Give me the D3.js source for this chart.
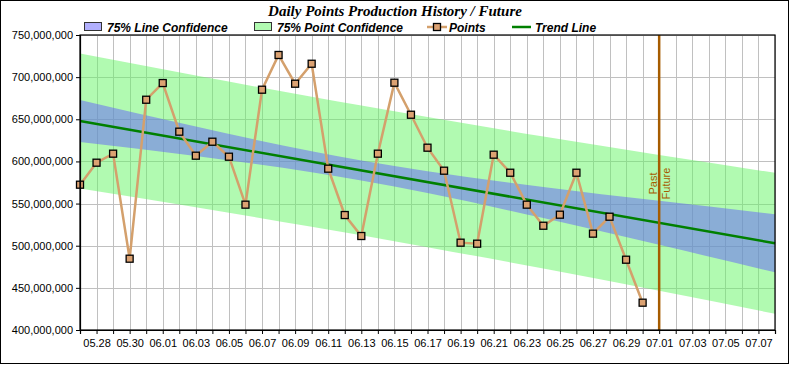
<!DOCTYPE html>
<html>
<head>
<meta charset="utf-8">
<script src="https://cdn.jsdelivr.net/npm/d3@7"></script>
<style>
  body { margin: 0; background: #fff; }
  svg { display: block; font-family: 'Liberation Sans', Arial, sans-serif; }
  .axis text { font-size: 11px; fill: #000; }
  .axis path, .axis line { stroke: #000; }
</style>
</head>
<body>
<div class="chart"></div>
<script>
'use strict';

// Past daily points (dates are MM.DD)
const pastDates = ['05.27', '05.28', '05.29', '05.30', '05.31', '06.01', '06.02', '06.03', '06.04',
  '06.05', '06.06', '06.07', '06.08', '06.09', '06.10', '06.11', '06.12', '06.13', '06.14', '06.15',
  '06.16', '06.17', '06.18', '06.19', '06.20', '06.21', '06.22', '06.23', '06.24', '06.25', '06.26',
  '06.27', '06.28', '06.29', '06.30'];
const points = [572400000, 598500000, 609200000, 484600000, 673200000, 693000000, 635300000,
  606800000, 623400000, 605600000, 548700000, 685100000, 726300000, 692200000, 715900000,
  591400000, 536400000, 511500000, 609200000, 693400000, 655400000, 616300000, 589000000,
  503600000, 502400000, 608000000, 586600000, 548700000, 523700000, 536800000, 586600000,
  514300000, 534400000, 483400000, 432400000];

// Trend line and confidence bands
const trendDates = ['05.27', '07.08'];
const trendValues = [648000000, 502900000];
const bandDates = ['05.27', '06.03', '06.10', '06.13', '06.17', '06.24', '07.01', '07.08'];
const lineUpper = [673000000, 641300000, 612000000, 601100000, 588300000, 569800000, 553200000, 537400000];
const lineLower = [623000000, 606300000, 587200000, 577500000, 562500000, 532800000, 501000000, 468400000];
const pointUpper = [728100000, 701900000, 676700000, 666300000, 652600000, 629600000, 607600000, 586500000];
const pointLower = [567900000, 545700000, 522500000, 512300000, 498200000, 473000000, 446600000, 419300000];

const splitDate = '07.01';
const xStart = '05.27';
const xEnd = '07.08';
const xTickLabels = ['05.28', '05.30', '06.01', '06.03', '06.05', '06.07', '06.09', '06.11', '06.13',
  '06.15', '06.17', '06.19', '06.21', '06.23', '06.25', '06.27', '06.29', '07.01', '07.03', '07.05', '07.07'];
const yTicks = [400000000, 450000000, 500000000, 550000000, 600000000, 650000000, 700000000, 750000000];

// Initialize
const w = 790;
const h = 365;
const plotLeft = 80;
const plotRight = 775;
const plotTop = 35;
const plotBottom = 330;

const parse = s => d3.utcParse('%Y.%m.%d')('2023.' + s);
const fmtDay = d3.utcFormat('%m.%d');

const svg = d3.select('.chart')
              .append('svg')
              .attr('width', w)
              .attr('height', h);

// Outer frame
svg.append('rect')
  .attr('x', 0.5).attr('y', 0.5)
  .attr('width', w - 2).attr('height', h - 2)
  .attr('fill', '#fff')
  .attr('stroke', '#000');

// Scales
const xScale = d3.scaleUtc()
                .domain([parse(xStart), parse(xEnd)])
                .range([plotLeft, plotRight]);

const yScale = d3.scaleLinear()
                .domain([d3.min(yTicks), d3.max(yTicks)])
                .range([plotBottom, plotTop]);

const allDays = d3.utcDay.range(parse(xStart), d3.utcDay.offset(parse(xEnd), 1));

// Grid
const grid = svg.append('g')
  .attr('stroke', '#c0c0c0')
  .attr('shape-rendering', 'crispEdges');

grid.selectAll('.vgrid')
  .data(allDays)
  .enter()
  .append('line')
  .attr('x1', d => Math.round(xScale(d)) + 0.5)
  .attr('x2', d => Math.round(xScale(d)) + 0.5)
  .attr('y1', plotTop)
  .attr('y2', plotBottom);

grid.selectAll('.hgrid')
  .data(yTicks)
  .enter()
  .append('line')
  .attr('x1', plotLeft)
  .attr('x2', plotRight)
  .attr('y1', d => Math.round(yScale(d)) + 0.5)
  .attr('y2', d => Math.round(yScale(d)) + 0.5);

// Bands
const bands = bandDates.map((d, i) => ({
  date: parse(d),
  lu: lineUpper[i], ll: lineLower[i],
  pu: pointUpper[i], pl: pointLower[i]
}));

svg.append('path')
  .datum(bands)
  .attr('fill', 'rgb(100,246,100)')
  .attr('fill-opacity', 0.5)
  .attr('d', d3.area()
    .x(d => xScale(d.date))
    .y0(d => yScale(d.pl))
    .y1(d => yScale(d.pu))
    .curve(d3.curveMonotoneX));

svg.append('path')
  .datum(bands)
  .attr('fill', 'rgb(99,96,251)')
  .attr('fill-opacity', 0.5)
  .attr('d', d3.area()
    .x(d => xScale(d.date))
    .y0(d => yScale(d.ll))
    .y1(d => yScale(d.lu))
    .curve(d3.curveMonotoneX));

// Trend line
svg.append('path')
  .datum(trendDates.map((d, i) => [parse(d), trendValues[i]]))
  .attr('fill', 'none')
  .attr('stroke', '#008000')
  .attr('stroke-width', 2.5)
  .attr('d', d3.line()
    .x(d => xScale(d[0]))
    .y(d => yScale(d[1])));

// Past / Future split
const sx = xScale(parse(splitDate));
const brown = '#a65c00';

svg.append('line')
  .attr('x1', sx).attr('x2', sx)
  .attr('y1', plotTop).attr('y2', plotBottom)
  .attr('stroke', brown)
  .attr('stroke-width', 2.5);

svg.append('text')
  .attr('transform', `translate(${sx - 2.5}, 183.5) rotate(-90)`)
  .attr('text-anchor', 'middle')
  .attr('font-size', 11)
  .attr('fill', brown)
  .text('Past');

svg.append('text')
  .attr('transform', `translate(${sx + 2.5}, 183.5) rotate(-90)`)
  .attr('text-anchor', 'middle')
  .attr('dy', '0.8em')
  .attr('font-size', 11)
  .attr('fill', brown)
  .text('Future');

// Points
const pastData = pastDates.map((d, i) => [parse(d), points[i]]);

svg.append('path')
  .datum(pastData)
  .attr('fill', 'none')
  .attr('stroke', '#d4a06c')
  .attr('stroke-width', 2.5)
  .attr('d', d3.line()
    .x(d => xScale(d[0]))
    .y(d => yScale(d[1])));

svg.selectAll('.marker')
  .data(pastData)
  .enter()
  .append('rect')
  .attr('class', 'marker')
  .attr('x', d => xScale(d[0]) - 3.5)
  .attr('y', d => yScale(d[1]) - 3.5)
  .attr('width', 7)
  .attr('height', 7)
  .attr('fill', '#dca272')
  .attr('stroke', '#000')
  .attr('stroke-width', 1.3);

// Plot frame
svg.append('rect')
  .attr('x', plotLeft).attr('y', plotTop)
  .attr('width', plotRight - plotLeft).attr('height', plotBottom - plotTop)
  .attr('fill', 'none')
  .attr('stroke', '#000')
  .attr('stroke-width', 1.2);

// Axes
const xAxis = d3.axisBottom(xScale)
  .tickValues(allDays)
  .tickSize(4)
  .tickPadding(5)
  .tickFormat(d => xTickLabels.includes(fmtDay(d)) ? fmtDay(d) : '');

const yAxis = d3.axisLeft(yScale)
  .tickValues(yTicks)
  .tickSize(4)
  .tickPadding(3)
  .tickFormat(d3.format(','));

svg.append('g')
  .attr('class', 'axis')
  .attr('transform', `translate(0, ${plotBottom})`)
  .call(xAxis)
  .call(g => g.select('.domain').attr('stroke-width', 1.2))
  .selectAll('text').attr('font-family', null);

svg.append('g')
  .attr('class', 'axis')
  .attr('transform', `translate(${plotLeft}, 0)`)
  .call(yAxis)
  .call(g => g.select('.domain').attr('stroke-width', 1.2))
  .selectAll('text').attr('font-family', null);

// Title
svg.append('text')
  .attr('x', w / 2)
  .attr('y', 16)
  .attr('text-anchor', 'middle')
  .attr('font-family', "'Liberation Serif', 'Times New Roman', serif")
  .attr('font-size', 15)
  .attr('font-weight', 'bold')
  .attr('font-style', 'italic')
  .text('Daily Points Production History / Future');

// Legend
const legend = svg.append('g')
  .attr('font-size', 12)
  .attr('font-weight', 'bold')
  .attr('font-style', 'italic');

const legendY = 27;

[[84, 'rgb(177,175,253)', '75% Line Confidence'], [254, 'rgb(177,250,177)', '75% Point Confidence']]
  .forEach(([x, fill, label]) => {
    legend.append('rect')
      .attr('x', x + 0.5).attr('y', legendY - 4.5)
      .attr('width', 17).attr('height', 8)
      .attr('fill', fill)
      .attr('stroke', '#333');
    legend.append('text')
      .attr('x', x + 23).attr('y', legendY + 4.5)
      .text(label);
  });

legend.append('line')
  .attr('x1', 427).attr('x2', 447)
  .attr('y1', legendY).attr('y2', legendY)
  .attr('stroke', '#d4a06c')
  .attr('stroke-width', 2.5);

legend.append('rect')
  .attr('x', 433.5).attr('y', legendY - 3.5)
  .attr('width', 7).attr('height', 7)
  .attr('fill', '#dca272')
  .attr('stroke', '#000')
  .attr('stroke-width', 1.3);

legend.append('text')
  .attr('x', 449).attr('y', legendY + 4.5)
  .text('Points');

legend.append('line')
  .attr('x1', 512).attr('x2', 531)
  .attr('y1', legendY).attr('y2', legendY)
  .attr('stroke', '#008000')
  .attr('stroke-width', 2.5);

legend.append('text')
  .attr('x', 535).attr('y', legendY + 4.5)
  .text('Trend Line');
</script>
</body>
</html>
